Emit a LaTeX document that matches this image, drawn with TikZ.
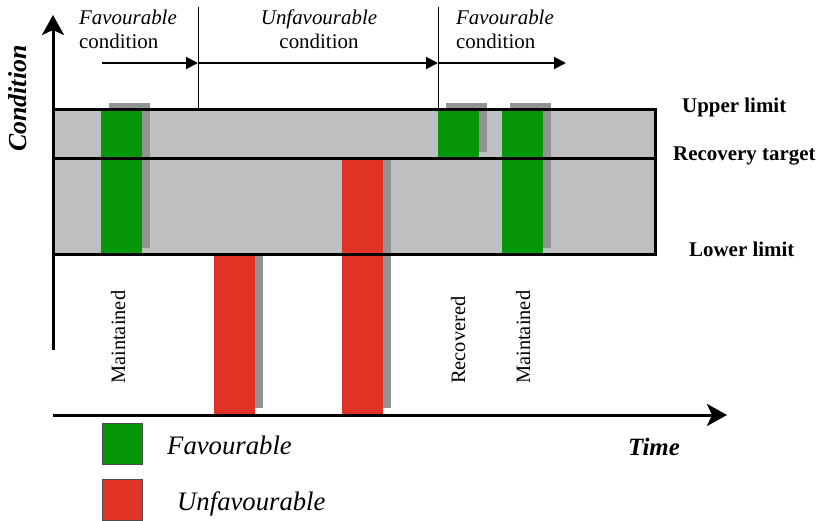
\documentclass[tikz,border=0pt]{standalone}
\usepackage{fontspec}
\setmainfont{Liberation Serif}
\usetikzlibrary{arrows.meta}

\definecolor{bandgray}{HTML}{BEBFC1}
\definecolor{shadowgray}{HTML}{939393}
\definecolor{goodgreen}{HTML}{05960A}
\definecolor{badred}{HTML}{E03325}

\tikzset{
  label21/.style={inner sep=0pt, font=\fontsize{21}{25}\selectfont},
  limitlabel/.style={inner sep=0pt, anchor=base west, font=\fontsize{21}{25}\selectfont\bfseries},
  barlabel/.style={inner sep=0pt, anchor=base west, rotate=90, font=\fontsize{20.5}{24}\selectfont},
  legendtext/.style={inner sep=0pt, anchor=base west, font=\fontsize{26.8}{31}\selectfont\itshape},
  axis/.style={line width=3bp, -{Stealth[length=20bp,width=22bp,inset=5bp]}},
  phasearrow/.style={line width=2bp, -{Triangle[length=12bp,width=12bp]}},
  divider/.style={line width=1bp},
  legendbox/.style={draw=black!70, line width=1bp}
}

\begin{document}
\begin{tikzpicture}[x=1bp, y=-1bp]
\useasboundingbox (0,0) rectangle (820,521);

% axis end points
\coordinate (origin) at (53,415);
\coordinate (ytop) at (53,15);
\coordinate (ybot) at (53,350);
\coordinate (xend) at (727,415);

% phase boundaries
\coordinate (p0) at (102,63);
\coordinate (p1) at (198,63);
\coordinate (p2) at (438,63);
\coordinate (p3) at (566,63);
\coordinate (d1top) at (198,7);
\coordinate (d1bot) at (198,110);
\coordinate (d2top) at (438,7);
\coordinate (d2bot) at (438,110);

% target band
\fill[bandgray] (53,110) rectangle (655,255);

% red bars below the band and their shadows
\fill[shadowgray] (255,255) rectangle (263,408);
\fill[badred] (214,255) rectangle (255,415);
\fill[shadowgray] (383,159) rectangle (391,408);
\fill[badred] (342,159) rectangle (383,415);

% green bars with shadows
\fill[shadowgray] (109,103) rectangle (150,248);
\fill[goodgreen] (101,111) rectangle (142,255);
\fill[shadowgray] (446,103) rectangle (487,152);
\fill[goodgreen] (438,111) rectangle (479,159);
\fill[shadowgray] (510,103) rectangle (551,248);
\fill[goodgreen] (502,111) rectangle (543,255);

% band outline and recovery target line
\draw[line width=3bp] (53,110) rectangle (655,255);
\draw[line width=3bp] (53,159) -- (655,159);

% axes
\draw[axis] (ybot) -- (ytop);
\draw[axis] (origin) -- (xend);

% phase dividers and arrows
\draw[divider] (d1top) -- (d1bot);
\draw[divider] (d2top) -- (d2bot);
\draw[phasearrow] (p0) -- (p1);
\draw[phasearrow] (p1) -- (p2);
\draw[phasearrow] (p2) -- (p3);

% phase labels
\node[label21, anchor=base west, font=\fontsize{21}{25}\selectfont\itshape] (fav1) at (79,25) {Favourable};
\node[label21, anchor=base west] (cond1) at (79,49) {condition};
\node[label21, anchor=base, font=\fontsize{21}{25}\selectfont\itshape] (unfav) at (319,25) {Unfavourable};
\node[label21, anchor=base] (cond2) at (319,49) {condition};
\node[label21, anchor=base west, font=\fontsize{21}{25}\selectfont\itshape] (fav2) at (456,25) {Favourable};
\node[label21, anchor=base west] (cond3) at (456,49) {condition};

% limit labels
\node[limitlabel] (upper) at (682,113) {Upper limit};
\node[limitlabel] (target) at (673,161) {Recovery target};
\node[limitlabel] (lower) at (689,257) {Lower limit};

% axis titles
\node[inner sep=0pt, anchor=base west, rotate=90, font=\fontsize{26}{30}\selectfont\bfseries\itshape] (ylab) at (26,152) {Condition};
\node[inner sep=0pt, anchor=base west, font=\fontsize{25}{30}\selectfont\bfseries\itshape] (xlab) at (628,455) {Time};

% bar labels
\node[barlabel] (m1) at (125,384) {Maintained};
\node[barlabel] (rec) at (465,384) {Recovered};
\node[barlabel] (m2) at (530,384) {Maintained};

% legend
\draw[legendbox, fill=goodgreen] (102,423) rectangle (142,464);
\draw[legendbox, fill=badred] (102,479) rectangle (142,520);
\node[legendtext] (lfav) at (167,454) {Favourable};
\node[legendtext] (lunfav) at (177,510) {Unfavourable};
\end{tikzpicture}
\end{document}
